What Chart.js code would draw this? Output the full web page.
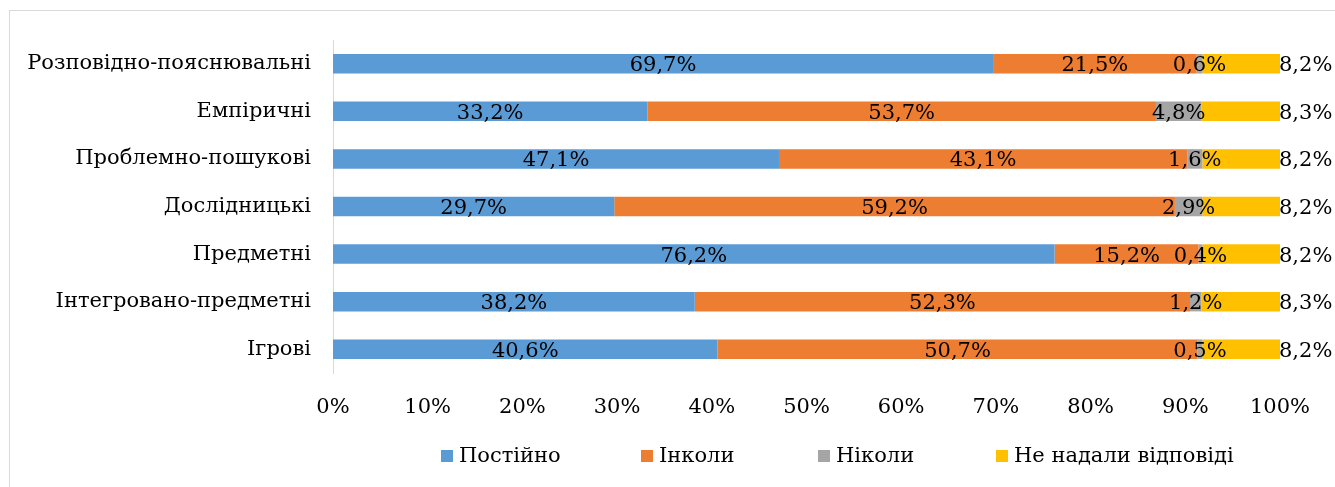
<!DOCTYPE html>
<html><head><meta charset="utf-8">
<script src="https://cdn.jsdelivr.net/npm/chart.js@4/dist/chart.umd.min.js"></script>
<style>html,body{margin:0;padding:0;background:#fff;}#wrap{width:1335px;height:487px;position:relative;}</style>
</head><body><div id="wrap"><canvas id="c" width="1335" height="487"></canvas></div>
<script>
const categories = ["Розповідно-пояснювальні","Емпіричні","Проблемно-пошукові","Дослідницькі","Предметні","Інтегровано-предметні","Ігрові"];
const seriesNames = ["Постійно","Інколи","Ніколи","Не надали відповіді"];
const postiino = [69.7,33.2,47.1,29.7,76.2,38.2,40.6];
const inkoly = [21.5,53.7,43.1,59.2,15.2,52.3,50.7];
const nikoly = [0.6,4.8,1.6,2.9,0.4,1.2,0.5];
const nemaie = [8.2,8.3,8.2,8.2,8.2,8.3,8.2];
const xTicks = [0,10,20,30,40,50,60,70,80,90,100];
const colors = ["#5B9BD5","#ED7D31","#A5A5A5","#FFC000"];
const FONT = "'DejaVu Serif', serif";
const FS = 21;

const fmt = v => v.toFixed(1).replace('.', ',') + '%';

const labelsPlugin = {
  id:'lbl',
  afterDatasetsDraw(chart){
    const ctx = chart.ctx;
    ctx.save();
    ctx.font = FS + "px " + FONT;
    ctx.fillStyle = "#000";
    ctx.textBaseline = "middle";
    chart.data.datasets.forEach((ds, di) => {
      const meta = chart.getDatasetMeta(di);
      meta.data.forEach((bar, i) => {
        const v = ds.data[i];
        const {x, y, base} = bar.getProps(['x','y','base'], true);
        if (di === 3) { ctx.textAlign = 'left'; ctx.fillText(fmt(v), x - 1, y + 2); }
        else { ctx.textAlign = 'center'; ctx.fillText(fmt(v), (x + base) / 2, y + 2); }
      });
    });
    ctx.restore();
  }
};
const framePlugin = {
  id:'frame',
  beforeDraw(chart){
    const ctx = chart.ctx;
    ctx.save();
    ctx.fillStyle = '#fff'; ctx.fillRect(0,0,chart.width,chart.height);
    ctx.strokeStyle = '#d9d9d9'; ctx.lineWidth = 1;
    ctx.strokeRect(9.5, 10.5, 1400, 600);
    ctx.restore();
  },
  afterDraw(chart){
    const ctx = chart.ctx;
    ctx.save();
    ctx.font = FS + "px " + FONT;
    ctx.textBaseline = 'middle'; ctx.textAlign = 'left';
    const xs = [441, 641, 818, 996];
    const y = 456;
    seriesNames.forEach((n, i) => {
      ctx.fillStyle = colors[i];
      ctx.fillRect(xs[i], y - 6, 12, 12);
      ctx.fillStyle = '#000';
      ctx.fillText(n, xs[i] + 18, y + 1);
    });
    ctx.restore();
  }
};

new Chart(document.getElementById('c'), {
  type: 'bar',
  data: {
    labels: categories,
    datasets: [postiino, inkoly, nikoly, nemaie].map((d, i) => ({
      label: seriesNames[i], data: d, backgroundColor: colors[i],
      borderWidth: 0, barPercentage: 0.41, categoryPercentage: 1
    }))
  },
  options: {
    indexAxis: 'y', responsive: false, animation: false,
    layout: { padding: { top: 40, right: 55, left: 0, bottom: 0 } },
    plugins: { legend: { display: false }, tooltip: { enabled: false } },
    scales: {
      x: {
        stacked: true, min: 0, max: 100,
        grid: { display: false, drawTicks: false },
        border: { display: false },
        afterFit(s){ s.height = 114; },
        afterBuildTicks(s){ s.ticks = xTicks.map(v => ({value: v})); },
        ticks: { padding: 22, color: '#000', font: { family: FONT, size: FS }, callback: v => v + '%' }
      },
      y: {
        stacked: true,
        grid: { display: false, drawTicks: false },
        border: { display: true, color: '#d9d9d9', width: 1 },
        afterFit(s){ s.width = 333; },
        ticks: { padding: 22, color: '#000', font: { family: FONT, size: FS } }
      }
    }
  },
  plugins: [framePlugin, labelsPlugin]
});
</script></body></html>
